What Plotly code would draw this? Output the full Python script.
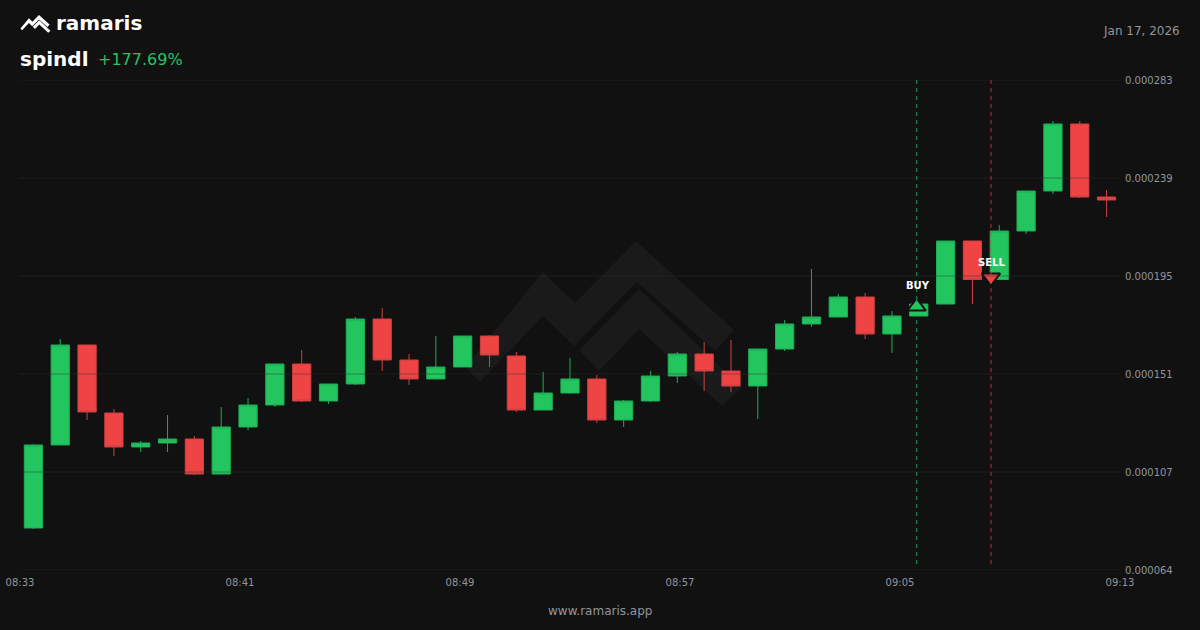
import plotly.graph_objects as go

BG = "#111111"
GREEN = "#22c55e"
RED = "#ef4444"
GRAY = "#91959c"
FONT = "DejaVu Sans"

minutes = list(range(41))
open_ = [0.00008277,0.00011987,0.00016456,0.00013417,0.00011898,0.00012076,0.00012255,0.00010690,0.00012791,0.00013774,
         0.00015607,0.00013953,0.00014713,0.00017618,0.00015786,0.00014937,0.00015473,0.00016858,0.00015965,0.00013551,
         0.00014311,0.00014937,0.00013104,0.00013953,0.00015070,0.00016054,0.00015294,0.00014624,0.00016277,0.00017395,
         0.00017707,0.00018601,0.00016948,0.00017752,0.00018287,0.00021104,0.00019384,0.00021551,0.00023339,0.00026333,0.00023071]
high = [0.00012031,0.00016724,0.00016456,0.00013596,0.00012166,0.00013328,0.00012389,0.00013685,0.00014087,0.00015607,
        0.00016233,0.00014713,0.00017707,0.00018110,0.00016054,0.00016858,0.00016858,0.00016903,0.00016143,0.00015249,
        0.00015875,0.00015115,0.00013998,0.00015294,0.00016143,0.00016590,0.00016680,0.00016277,0.00017573,0.00019853,
        0.00018735,0.00018780,0.00017975,0.00018287,0.00021104,0.00021104,0.00021819,0.00023339,0.00026468,0.00026468,0.00023384]
low = [0.00008233,0.00011987,0.00013104,0.00011495,0.00011674,0.00011674,0.00010646,0.00010690,0.00012657,0.00013685,
       0.00013909,0.00013819,0.00014668,0.00015294,0.00014668,0.00014937,0.00015473,0.00015473,0.00013462,0.00013551,
       0.00014266,0.00012970,0.00012791,0.00013909,0.00014758,0.00014400,0.00014355,0.00013149,0.00016188,0.00017261,
       0.00017707,0.00016724,0.00016099,0.00017752,0.00018287,0.00018287,0.00019361,0.00021417,0.00023205,0.00023026,0.00022177]
close = [0.00011987,0.00016456,0.00013462,0.00011898,0.00012076,0.00012255,0.00010690,0.00012791,0.00013774,0.00015607,
         0.00013953,0.00014713,0.00017618,0.00015786,0.00014937,0.00015473,0.00016858,0.00016009,0.00013551,0.00014311,
         0.00014937,0.00013104,0.00013953,0.00015070,0.00016054,0.00015294,0.00014624,0.00016277,0.00017395,0.00017707,
         0.00018601,0.00016948,0.00017752,0.00018287,0.00021104,0.00019384,0.00021551,0.00023339,0.00026333,0.00023071,0.00022937]

y_ticks = [0.000283, 0.0002392, 0.0001954, 0.0001516, 0.0001078, 0.000064]
y_labels = ["0.000283", "0.000239", "0.000195", "0.000151", "0.000107", "0.000064"]
x_ticks = [-0.5, 7.7, 15.9, 24.1, 32.3, 40.5]
x_labels = ["08:33", "08:41", "08:49", "08:57", "09:05", "09:13"]

signal_x = [32.92, 35.69]
signal_y = [0.00018177, 0.00019473]
signal_labels = ["BUY", "SELL"]
signal_symbols = ["triangle-up", "triangle-down"]
signal_colors = [GREEN, RED]
signal_line_colors = ["rgba(34,197,94,0.55)", "rgba(239,68,68,0.48)"]

# layout geometry in page pixels
L, R, T, B = 20, 1120, 80, 570
def px(x): return (x - L) / (R - L)
def py(y): return (B - y) / (B - T)

# logo outline, in the pixel frame of the big watermark
logo_a = [(465,367),(543,272),(575,303),(636,241),(734,330),(715,351),(637,282),(574,346),(543,316),(480,382)]
logo_b = [(579,350),(639,289),(742,387),(722,406),(639,329),(599,371)]

def logo_path(points, scale=1.0, ox=465.0, oy=241.0):
    pts = [(ox + (x - 465) * scale, oy + (y - 241) * scale) for x, y in points]
    return "M" + " L".join(f"{px(x):.5f},{py(y):.5f}" for x, y in pts) + " Z"

shapes = []
for pts in (logo_a, logo_b):
    shapes.append(dict(type="path", xref="paper", yref="paper", layer="below",
                       path=logo_path(pts), fillcolor="#1a1a1a", line=dict(width=0)))
    shapes.append(dict(type="path", xref="paper", yref="paper", layer="above",
                       path=logo_path(pts, 0.108, 20.5, 15), fillcolor="#ffffff", line=dict(width=0)))
for v in y_ticks:
    shapes.append(dict(type="line", xref="paper", x0=0, x1=1, yref="y", y0=v, y1=v, layer="above",
                       line=dict(color="rgba(45,45,45,0.45)", width=1)))
for x, c in zip(signal_x, signal_line_colors):
    shapes.append(dict(type="line", xref="x", x0=x, x1=x, yref="paper", y0=1, y1=0.008, layer="above",
                       line=dict(color=c, width=1.5, dash="4px,4px")))

fig = go.Figure()
fig.add_trace(go.Candlestick(
    x=minutes, open=open_, high=high, low=low, close=close,
    whiskerwidth=0,
    increasing=dict(fillcolor=GREEN, line=dict(color="#1fae56", width=1)),
    decreasing=dict(fillcolor=RED, line=dict(color="#d04040", width=1)),
    showlegend=False, hoverinfo="skip",
))
fig.add_trace(go.Scatter(
    x=signal_x, y=signal_y, mode="markers", hoverinfo="skip", showlegend=False,
    marker=dict(symbol=signal_symbols, size=16, color=signal_colors, line=dict(color=BG, width=2)),
))

annotations = [
    dict(xref="paper", yref="paper", x=px(55), y=py(23), text="<b>ramaris</b>", showarrow=False,
         xanchor="left", yanchor="middle", font=dict(size=20, color="#ffffff", family=FONT)),
    dict(xref="paper", yref="paper", x=px(19), y=py(59), text="<b>spindl</b>", showarrow=False,
         xanchor="left", yanchor="middle", font=dict(size=20, color="#ffffff", family=FONT)),
    dict(xref="paper", yref="paper", x=px(97), y=py(60), text="+177.69%", showarrow=False,
         xanchor="left", yanchor="middle", font=dict(size=16, color=GREEN, family=FONT)),
    dict(xref="paper", yref="paper", x=px(1181), y=py(31), text="Jan 17, 2026", showarrow=False,
         xanchor="right", yanchor="middle", font=dict(size=12, color=GRAY, family=FONT)),
    dict(xref="paper", yref="paper", x=px(600), y=py(611), text="www.ramaris.app", showarrow=False,
         xanchor="center", yanchor="middle", font=dict(size=12, color=GRAY, family=FONT)),
    dict(xref="x", yref="paper", x=signal_x[0], y=py(285), xshift=1, text=f"<b>{signal_labels[0]}</b>", showarrow=False,
         xanchor="center", yanchor="middle", font=dict(size=10, color="#ffffff", family=FONT)),
    dict(xref="x", yref="paper", x=signal_x[1], y=py(262), xshift=1, text=f"<b>{signal_labels[1]}</b>", showarrow=False,
         xanchor="center", yanchor="middle", font=dict(size=10, color="#ffffff", family=FONT)),
]
for a in annotations:
    a["borderpad"] = 0

fig.update_layout(
    width=1200, height=630, margin=dict(l=L, r=1200 - R, t=T, b=630 - B, autoexpand=False),
    paper_bgcolor=BG, plot_bgcolor=BG, shapes=shapes, annotations=annotations,
    font=dict(family=FONT, color=GRAY, size=10),
    boxmode="group", boxgap=0.32, boxgroupgap=0,
    xaxis=dict(range=[-0.5, 40.5], tickmode="array", tickvals=x_ticks, ticktext=x_labels,
               showgrid=False, zeroline=False, showline=False, ticks="", automargin=False,
               rangeslider=dict(visible=False), ticklabelstandoff=5,
               tickfont=dict(size=10, color=GRAY, family=FONT)),
    yaxis=dict(range=[0.000064, 0.000283], side="right", tickmode="array", tickvals=y_ticks, ticktext=y_labels,
               showgrid=False, zeroline=False, showline=False, ticks="", automargin=False, ticklabelstandoff=4,
               tickfont=dict(size=10, color=GRAY, family=FONT)),
)
fig.write_html("out.html", config=dict(displayModeBar=False),
               post_script="document.body.style.margin='0';document.body.style.background='#111111';document.documentElement.style.overflow='hidden';")
